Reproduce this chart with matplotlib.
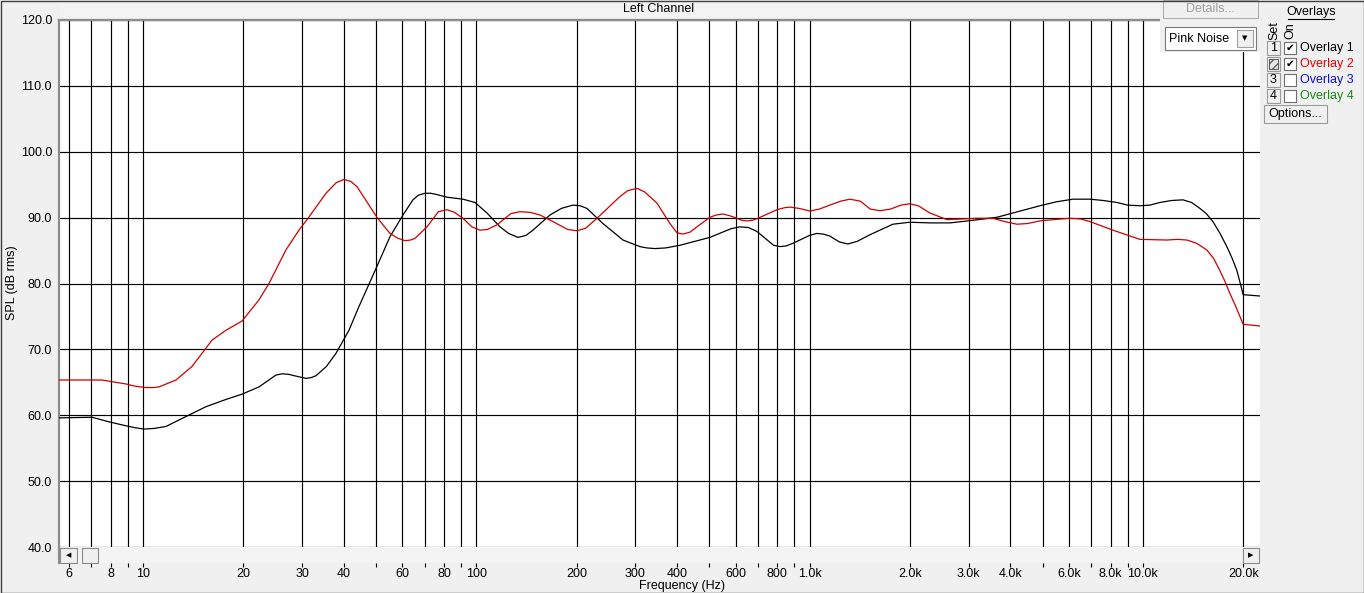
import matplotlib
matplotlib.use('Agg')
import matplotlib.pyplot as plt
from matplotlib.patches import Rectangle
from matplotlib.lines import Line2D

plt.rcParams['font.family'] = ['Liberation Sans', 'DejaVu Sans']

# ---------------- data ----------------
freq_overlay1 = [5.6, 7.03, 7.91, 8.89, 9.5, 10.07, 10.8, 11.72, 13.45, 15.45, 17.74, 19.82,
                 22.28, 25.06, 26.2, 27.43, 29.0, 30.84, 31.9, 33.04, 35.5, 37.93, 41.5, 44.46,
                 50.35, 55.09, 60.27, 64.57, 67.0, 70.15, 73.0, 76.21, 81.66, 91.2, 99.1,
                 107.7, 117.8, 125, 133.4, 141, 147.9, 166.4, 180, 195.0, 205, 214.8,
                 239.9, 275.5, 309.7, 325, 343.4, 370, 408.1, 502.2, 580, 617.8, 655,
                 695.0, 780, 814.5, 850, 891.1, 1000, 1051, 1100, 1150, 1230, 1303, 1390,
                 1517, 1778, 1999, 2296, 2636, 2985, 3647, 4909, 5500, 6166, 6934, 7600,
                 8356, 9000, 9796, 10500, 11250, 12200, 13190, 14000, 14830, 15500,
                 16220, 17000, 17860, 18500, 19140, 20000, 22460]
spl_overlay1 = [59.6, 59.7, 59.0, 58.4, 58.1, 57.9, 58.0, 58.3, 59.8, 61.3, 62.4, 63.2,
                64.3, 66.1, 66.3, 66.2, 65.9, 65.6, 65.7, 66.0, 67.4, 69.4, 72.9, 76.5,
                82.6, 87.1, 90.4, 92.7, 93.4, 93.7, 93.7, 93.5, 93.1, 92.8, 92.3,
                90.7, 88.6, 87.6, 87.0, 87.3, 88.1, 90.4, 91.4, 91.9, 91.8, 91.4,
                89.1, 86.6, 85.6, 85.4, 85.3, 85.4, 85.8, 87.0, 88.3, 88.6, 88.5,
                87.9, 85.8, 85.6, 85.7, 86.1, 87.3, 87.6, 87.5, 87.2, 86.3, 86.0, 86.4,
                87.4, 89.0, 89.3, 89.2, 89.2, 89.5, 90.05, 91.8, 92.4, 92.8, 92.8, 92.6,
                92.3, 91.9, 91.8, 91.9, 92.3, 92.6, 92.7, 92.3, 91.4, 90.6,
                89.4, 87.7, 85.6, 83.9, 82.0, 78.3, 78.1]

freq_overlay2 = [5.6, 7.53, 8.89, 9.5, 10.21, 10.7, 11.17, 12.56, 14.03, 16.11, 17.74, 19.82,
                 22.28, 23.88, 26.85, 29.38, 31.48, 35.4, 38.0, 40.09, 42.0, 43.86, 50.35,
                 55.09, 58.0, 61.11, 63.5, 65.47, 71.12, 77.0, 81.66, 86.0, 91.2, 97.0,
                 102.5, 108, 115.3, 127, 135.2, 145, 155.3, 169.8, 188, 200.5, 213,
                 230.3, 269.8, 285, 303.4, 320, 348.4, 381.2, 400, 416.9, 438, 459.3,
                 502.2, 525, 549.4, 575, 605.5, 625, 648.9, 675, 700.0, 798.0, 840,
                 873.6, 930, 1003, 1070, 1150, 1240, 1321, 1420, 1520, 1626, 1750,
                 1880, 1999, 2120, 2296, 2582, 3177, 3548, 3850, 4188, 4500, 4909,
                 5400, 6039, 6500, 6934, 8128, 9796, 11800, 12700, 13550, 14500,
                 15550, 16300, 17010, 17600, 18240, 19000, 20000, 22460]
spl_overlay2 = [65.35, 65.35, 64.75, 64.4, 64.2, 64.2, 64.3, 65.35, 67.4, 71.4, 72.9, 74.3,
                77.5, 80.0, 85.1, 88.1, 90.1, 93.7, 95.3, 95.8, 95.5, 94.7, 90.05,
                87.6, 86.9, 86.5, 86.6, 86.85, 88.6, 90.9, 91.2, 90.8, 89.9, 88.6,
                88.1, 88.2, 88.9, 90.6, 90.9, 90.8, 90.4, 89.4, 88.2, 88.0, 88.4,
                89.9, 93.2, 94.1, 94.45, 93.9, 92.2, 89.1, 87.7, 87.5, 87.8, 88.6,
                90.05, 90.4, 90.55, 90.3, 89.9, 89.6, 89.5, 89.6, 89.9, 91.2, 91.5,
                91.6, 91.4, 91.0, 91.3, 91.9, 92.5, 92.8, 92.5, 91.3, 91.05, 91.3,
                91.9, 92.1, 91.8, 90.7, 89.7, 89.9, 89.9, 89.4, 89.0, 89.1, 89.5,
                89.7, 89.9, 89.8, 89.4, 88.1, 86.7, 86.6, 86.7, 86.6, 86.1,
                85.1, 83.8, 82.0, 80.4, 78.5, 76.5, 73.8, 73.55]

grid_freqs = [6, 7, 8, 9, 10, 20, 30, 40, 50, 60, 70, 80, 90, 100,
              200, 300, 400, 500, 600, 700, 800, 900, 1000,
              2000, 3000, 4000, 5000, 6000, 7000, 8000, 9000, 10000, 20000]
freq_labels = ['6', '', '8', '', '10', '20', '30', '40', '', '60', '', '80', '', '100',
               '200', '300', '400', '', '600', '', '800', '', '1.0k',
               '2.0k', '3.0k', '4.0k', '', '6.0k', '', '8.0k', '', '10.0k', '20.0k']
spl_ticks = [40, 50, 60, 70, 80, 90, 100, 110, 120]
overlay_names = ['Overlay 1', 'Overlay 2', 'Overlay 3', 'Overlay 4']
overlay_colors = ['#000000', '#e00000', '#1010e0', '#1a8a1a']
overlay_on = [True, True, False, False]

# ---------------- figure ----------------
W, H = 1364, 593
fig = plt.figure(figsize=(W / 100, H / 100), dpi=100, facecolor='#f0f0f0')


def fr(x0, y0, x1, y1):
    return [x0 / W, 1 - y1 / H, (x1 - x0) / W, (y1 - y0) / H]


def box(x0, y0, x1, y1, fc='#f0f0f0', ec='#a0a0a0', lw=0.8, z=3, **kw):
    r = Rectangle((x0 / W, 1 - y1 / H), (x1 - x0) / W, (y1 - y0) / H,
                  transform=fig.transFigure, facecolor=fc, edgecolor=ec,
                  linewidth=lw, zorder=z, **kw)
    fig.add_artist(r)
    return r


def txt(x, y, s, **kw):
    kw.setdefault('fontsize', 9)
    kw.setdefault('va', 'center')
    t = fig.text(x / W, 1 - y / H, s, zorder=6, **kw)
    return t


XL = (5.598, 22460)

# main plot
ax = fig.add_axes(fr(59, 20, 1260, 547))
ax.set_facecolor('white')
ax.set_xscale('log')
ax.set_xlim(*XL)
ax.set_ylim(40, 120)
ax.set_xticks(grid_freqs)
ax.set_xticks([], minor=True)
ax.tick_params(axis='x', length=0, labelbottom=False)
ax.set_yticks(spl_ticks)
ax.set_yticklabels([f'{v:.1f}' for v in spl_ticks], fontsize=9)
ax.tick_params(axis='y', length=0, pad=5)
ax.grid(True, color='black', lw=0.85)
for s in ['right', 'bottom']:
    ax.spines[s].set_visible(False)
for s in ['top', 'left']:
    ax.spines[s].set_color('#8c8c8c')
    ax.spines[s].set_linewidth(1.6)
ax.plot(freq_overlay1, spl_overlay1, color='black', lw=0.9, zorder=4)
ax.plot(freq_overlay2, spl_overlay2, color='#cc0000', lw=0.9, zorder=5)

# scrollbar axis with frequency ticks
sb = fig.add_axes(fr(59, 547, 1260, 563))
sb.set_facecolor('#f4f4f4')
sb.set_xscale('log')
sb.set_xlim(*XL)
sb.set_ylim(0, 1)
sb.set_yticks([])
sb.set_xticks(grid_freqs)
sb.set_xticks([], minor=True)
sb.set_xticklabels(freq_labels, fontsize=9)
sb.tick_params(axis='x', length=3, width=0.8, pad=0.5, direction='out')
for s in ['right', 'top', 'bottom']:
    sb.spines[s].set_visible(False)
sb.spines['left'].set_color('#8c8c8c')
sb.spines['left'].set_linewidth(1.6)

# scrollbar buttons
box(60, 548, 77, 563, fc='#f0f0f0', ec='#8a8a8a')
txt(68.5, 555, '\u25C0', fontsize=5, ha='center', family='DejaVu Sans')
box(82, 548, 98, 563, fc='#f0f0f0', ec='#8a8a8a')
box(1243, 548, 1259, 563, fc='#f0f0f0', ec='#8a8a8a')
txt(1251, 555, '\u25B6', fontsize=5, ha='center', family='DejaVu Sans')

# axis labels and title
txt(682, 586.5, 'Frequency (Hz)', ha='center')
txt(12, 283, 'SPL (dB rms)', ha='center', rotation=90)
box(60, 1, 1160, 18, fc='#f3f3f3', ec='none', lw=0, z=2)
txt(659, 9.5, 'Left Channel', ha='center')

# top right controls panel
box(1160, 0, 1261, 52, fc='#f0f0f0', ec='none', lw=0, z=3)
box(1163, 0, 1258, 18, fc='#f0f0f0', ec='#b0b0b0')
txt(1210.5, 9, 'Details...', ha='center', color='#a0a0a0')
box(1165, 27, 1256, 50, fc='white', ec='#7a7a7a')
box(1237, 30, 1253, 47, fc='#f0f0f0', ec='#a0a0a0')
txt(1245, 38.5, '\u25BC', fontsize=5, ha='center', family='DejaVu Sans')
txt(1169, 38.5, 'Pink Noise', ha='left')

# overlays panel
txt(1311, 12, 'Overlays', ha='center')
fig.add_artist(Line2D([1288 / W, 1334 / W], [1 - 19 / H, 1 - 19 / H],
                      transform=fig.transFigure, color='black', lw=0.8, zorder=6))
txt(1274, 31, 'Set', ha='center', rotation=90)
txt(1290, 31, 'On', ha='center', rotation=90)
for i, (name, col, on) in enumerate(zip(overlay_names, overlay_colors, overlay_on)):
    yc = 48 + 16 * i
    box(1267, yc - 7, 1280, yc + 7, fc='#f0f0f0', ec='#9a9a9a')
    if i == 1:
        box(1269, yc - 5, 1278, yc + 5, fc='#e8e8e8', ec='#606060', hatch='////')
    else:
        txt(1273.5, yc, str(i + 1), ha='center')
    box(1284, yc - 6, 1296, yc + 6, fc='white', ec='#707070')
    if on:
        txt(1290, yc, '\u2714', fontsize=7.5, ha='center', family='DejaVu Sans')
    txt(1300, yc, name, ha='left', color=col)
box(1264, 105, 1327, 123, fc='#f0f0f0', ec='#9a9a9a')
txt(1295.5, 114, 'Options...', ha='center')

# outer frame
box(0.5, 0.5, W - 0.5, H - 0.5, fc='none', ec='#404040', lw=1.0, z=7)

fig.savefig('out.png', dpi=100, facecolor=fig.get_facecolor())
